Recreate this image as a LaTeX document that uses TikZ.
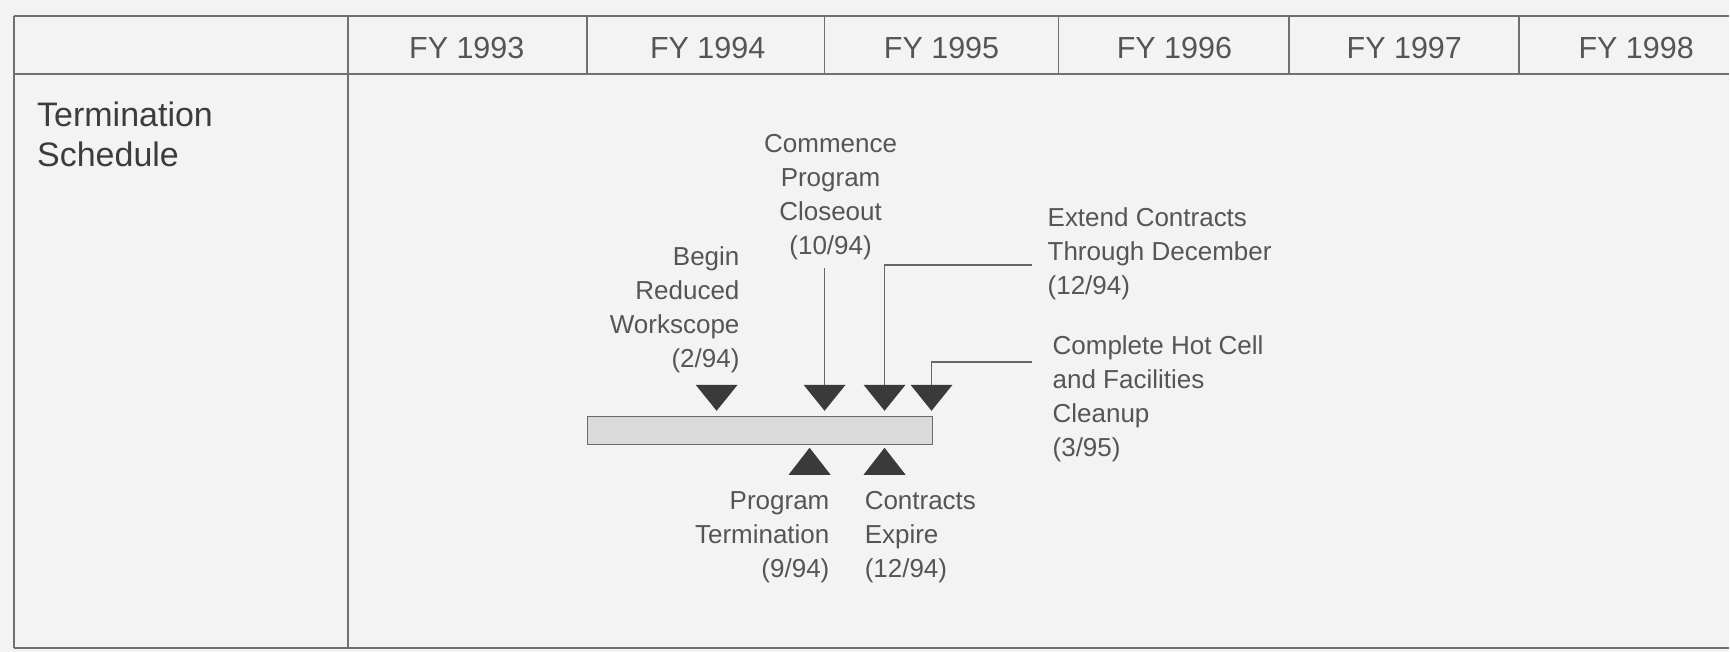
\documentclass[tikz,border=0pt]{standalone}
\usepackage{fontspec}
\setmainfont{Liberation Sans}
\definecolor{bgc}{HTML}{F3F3F3}
\definecolor{gridc}{HTML}{707070}
\definecolor{txt}{HTML}{555555}
\definecolor{head}{HTML}{3C3C3C}
\definecolor{linec}{HTML}{666666}
\definecolor{tric}{HTML}{3A3A3A}
\definecolor{barline}{HTML}{6A6A6A}
\definecolor{barfill}{HTML}{DADADA}
\begin{document}
\begin{tikzpicture}[x=1pt,y=-1pt,
  grid/.style={draw=gridc, line width=1.8pt},
  yr/.style={font=\fontsize{30.5}{36}\selectfont, text=txt, inner sep=0pt, anchor=base},
  hd/.style={font=\fontsize{34}{40}\selectfont, text=head, inner sep=0pt},
  lbl/.style={font=\fontsize{26}{34}\selectfont, text=txt, inner sep=0pt},
  conn/.style={draw=linec, line width=1.6pt},
  tri/.style={fill=tric},
  barbox/.style={draw=barline, fill=barfill, line width=1.6pt, inner sep=0pt,
    minimum width=345pt, minimum height=28pt, anchor=north west}]
% background / bounding box
\fill[bgc] (0,0) rectangle (1730,652);
% table grid
\draw[grid] (14,16) -- (1730,16);
\draw[grid] (14,74) -- (1730,74);
\draw[grid] (14,648) -- (1730,648);
\draw[grid] (14,16) -- (14,648);
\draw[grid] (348,16) -- (348,648);
\foreach \x in {587,825,1059,1290,1520} \draw[grid] (\x,16) -- (\x,74);
% year headings
\node[yr] (y93) at (467,59) {FY 1993};
\node[yr] (y94) at (708,59) {FY 1994};
\node[yr] (y95) at (942,59) {FY 1995};
\node[yr] (y96) at (1175,59) {FY 1996};
\node[yr] (y97) at (1405,59) {FY 1997};
\node[yr] (y98) at (1637,59) {FY 1998};
% row heading
\node[hd, anchor=base west] (ts) at (37,127)
  {\begin{tabular}[t]{@{}l@{}}Termination\\Schedule\end{tabular}};
% bar
\node[barbox] (bar) at (587,416) {};
% down triangles
\coordinate (t1) at (717,385);
\coordinate (t2) at (825,385);
\coordinate (t3) at (885,385);
\coordinate (t4) at (932,385);
\foreach \t in {t1,t2,t3,t4}
  \fill[tri] (\t) ++(-21,0) -- ++(42,0) -- ++(-21,26) -- cycle;
% up triangles
\coordinate (u1) at (810,448);
\coordinate (u2) at (885,448);
\foreach \u in {u1,u2}
  \fill[tri] (\u) -- ++(21,27) -- ++(-42,0) -- cycle;
% labels above
\node[lbl, anchor=base east] (bg) at (740,266)
  {\begin{tabular}[t]{@{}r@{}}Begin\\Reduced\\Workscope\\(2/94)\end{tabular}};
\node[lbl, anchor=base] (cm) at (831,153)
  {\begin{tabular}[t]{@{}c@{}}Commence\\Program\\Closeout\\(10/94)\end{tabular}};
\node[lbl, anchor=base west] (ex) at (1048,227)
  {\begin{tabular}[t]{@{}l@{}}Extend Contracts\\Through December\\(12/94)\end{tabular}};
\node[lbl, anchor=base west] (hc) at (1053,355)
  {\begin{tabular}[t]{@{}l@{}}Complete Hot Cell\\and Facilities\\Cleanup\\(3/95)\end{tabular}};
% labels below
\node[lbl, anchor=base east] (pt) at (830,510)
  {\begin{tabular}[t]{@{}r@{}}Program\\Termination\\(9/94)\end{tabular}};
\node[lbl, anchor=base west] (ce) at (865,510)
  {\begin{tabular}[t]{@{}l@{}}Contracts\\Expire\\(12/94)\end{tabular}};
% connectors
\draw[conn] ([yshift=-3pt]cm.south -| t2) -- (t2);
\coordinate (e1) at (1033,265);
\coordinate (h1) at (1033,362);
\draw[conn] (e1) -| (t3);
\draw[conn] (h1) -| (t4);
\end{tikzpicture}
\end{document}
